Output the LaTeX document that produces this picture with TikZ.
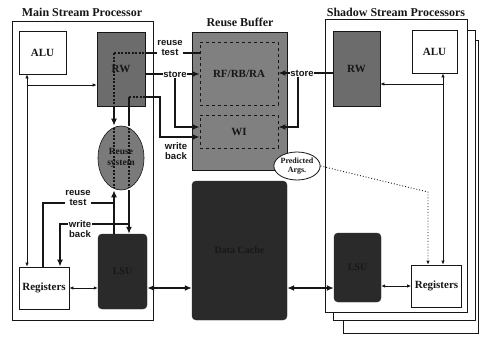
\documentclass[tikz,border=0pt]{standalone}
\usepackage{fontspec}
\setmainfont{Liberation Serif}
\setsansfont{Liberation Sans}
\usepackage{tikz}
\usetikzlibrary{arrows.meta,shapes.geometric}
\definecolor{spInk}{HTML}{161616}
\definecolor{spRW}{HTML}{6C6C6C}
\definecolor{spBuffer}{HTML}{808080}
\definecolor{spReuse}{HTML}{7A7A7A}
\definecolor{spDark}{HTML}{2A2A2A}
\tikzset{
  sp diagram/.style={font=\rmfamily\bfseries, text=spInk,
    line cap=butt, line join=miter},
  sp frame/.style={draw=spInk, fill=white, line width=0.8pt},
  sp unit/.style={draw=spInk, fill=white, line width=0.8pt,
    font=\fontsize{11}{13}\selectfont\bfseries},
  sp rw/.style={sp unit, fill=spRW, line width=0.6pt},
  sp buffer/.style={draw=spInk, fill=spBuffer, line width=0.6pt},
  sp inner/.style={draw=spInk, dashed, line width=0.8pt,
    font=\fontsize{11}{13}\selectfont\bfseries},
  sp reuse/.style={ellipse, draw=spInk, fill=spReuse, line width=0.6pt,
    inner sep=0pt, align=center, font=\fontsize{9.5}{10.5}\selectfont\bfseries},
  sp args/.style={ellipse, draw=spInk, fill=white, line width=0.8pt,
    inner sep=0pt, align=center, font=\fontsize{8}{9}\selectfont\bfseries},
  sp dark/.style={draw=spDark, fill=spDark, rounded corners=4pt,
    text=spDark!55!black, font=\fontsize{10}{12}\selectfont\bfseries},
  sp title/.style={font=\fontsize{12}{14}\selectfont\bfseries},
  sp tag/.style={font=\sffamily\bfseries\fontsize{9.5}{10.5}\selectfont,
    fill=white, inner sep=0.5pt, align=center},
  sp line/.style={draw=spInk, line width=1.6pt},
  sp arrow/.style={sp line, -{Latex[length=7pt,width=6pt]}},
  sp both/.style={sp line, {Latex[length=7pt,width=6pt]}-{Latex[length=7pt,width=6pt]}},
  sp mid/.style={draw=spInk, line width=1pt},
  sp mid arrow/.style={sp mid, -{Latex[length=4pt,width=3.5pt]}},
  sp mid both/.style={sp mid, {Latex[length=4pt,width=3.5pt]}-{Latex[length=4pt,width=3.5pt]}},
  sp inside/.style={draw=spInk, line width=1.2pt, dash pattern=on 2pt off 1.5pt},
  sp hint/.style={draw=spInk, line width=0.9pt, dotted, -{Latex[length=4pt,width=3.5pt]}}
}
\begin{document}
\begin{tikzpicture}[sp diagram,x=1pt,y=-1pt]
\useasboundingbox (0,0) rectangle (480,343);
\node[sp frame,minimum width=141pt,minimum height=299pt] (mainbox) at (82.5,170.5) {};
\node[sp frame,minimum width=135pt,minimum height=293pt] (shframeC) at (410.5,186.5) {};
\node[sp frame,minimum width=142pt,minimum height=290pt] (shframeB) at (404,175) {};
\node[sp frame,minimum width=142pt,minimum height=293pt] (shadowbox) at (396,165.5) {};
\node[sp title] (maintitle) at (82,12) {Main Stream Processor};
\node[sp title] (buftitle) at (240,22) {Reuse Buffer};
\node[sp title] (shtitle) at (396,12) {Shadow Stream Processors};

\node[sp unit,minimum width=47pt,minimum height=43pt] (mainalu) at (42.5,52.5) {ALU};
\node[sp rw,minimum width=48pt,minimum height=74pt] (mainrw) at (121,69) {RW};
\node[sp reuse,minimum width=46pt,minimum height=64pt] (reusesys) at (121,158) {};
\node[sp unit,minimum width=48pt,minimum height=42pt] (mainreg) at (44,288) {Registers};
\node[sp dark,minimum width=49pt,minimum height=75pt] (mainlsu) at (122.5,271.5) {LSU};
\node[sp buffer,minimum width=95pt,minimum height=138pt] (buffer) at (239.5,101) {};
\node[sp inner,minimum width=78pt,minimum height=63pt] (rfbox) at (239,73.5) {RF/RB/RA};
\node[sp inner,minimum width=78pt,minimum height=33pt] (wibox) at (239,131.5) {WI};
\node[sp dark,minimum width=95pt,minimum height=139pt] (cache) at (239.5,250.5) {Data Cache};
\node[sp args,minimum width=46pt,minimum height=28pt] (predargs) at (297,166) {Predicted\\Args.};
\node[sp rw,minimum width=47pt,minimum height=75pt] (shrw) at (356.5,68.5) {RW};
\node[sp unit,minimum width=45pt,minimum height=43pt] (shalu) at (434.5,51.5) {ALU};
\node[sp dark,minimum width=47pt,minimum height=69pt] (shlsu) at (357.5,267.5) {LSU};
\node[sp unit,minimum width=47pt,minimum height=42pt] (shreg) at (436.5,286) {Registers};

\coordinate (mainbus) at (27,85);
\coordinate (shbus) at (443,84);
\coordinate (rtest) at (114,53);
\coordinate (wback) at (129,97);
\coordinate (wbturn) at (160,137);
\coordinate (mstore) at (175,74);
\coordinate (mstorewi) at (175,127);
\coordinate (sstore) at (302,73);
\coordinate (sstorewi) at (298,127);
\coordinate (rtestreg) at (43,203);
\coordinate (wbackreg) at (60,224);
\coordinate (argsturn) at (428,192);
\coordinate (membus) at (240,288);

\draw[sp mid both] (mainalu.south -| mainbus) -- (mainreg.north -| mainbus);
\draw[sp mid arrow] (mainbus) -- (mainrw.west |- mainbus);
\draw[sp mid both] (shalu.south -| shbus) -- (shreg.north -| shbus);
\draw[sp mid arrow] (shbus) -- (shrw.east |- shbus);

\draw[sp inside] (rtest) -- (mainrw.east |- rtest);
\draw[sp line] (mainrw.east |- rtest) -- (rfbox.west |- rtest);
\draw[sp inside] (rtest) -- (mainrw.south -| rtest);
\draw[sp arrow] (mainrw.south -| rtest) -- (reusesys.north -| rtest);
\draw[sp inside,shorten <=2pt,shorten >=2pt] (reusesys.north -| rtest) -- (reusesys.south -| rtest);
\draw[sp inside,shorten <=2pt,shorten >=2pt] (reusesys.north -| wback) -- (reusesys.south -| wback);
\node[font=\fontsize{9.5}{10.5}\selectfont\bfseries,align=center,inner sep=0pt] (reusetext) at (reusesys) {Reuse\\system};
\draw[sp arrow] (mainlsu.north -| rtest) -- (reusesys.south -| rtest);
\draw[sp line] (mainreg.north -| rtestreg) |- (rtestreg -| rtest);

\draw[sp line] (reusesys.north -| wback) -- (wback);
\draw[sp inside] (wback) -- (mainrw.east |- wback);
\draw[sp arrow] (mainrw.east |- wback) -| (wbturn) -- (wibox.west |- wbturn);
\draw[sp arrow] (reusesys.south -| wback) -- (mainlsu.north -| wback);
\draw[sp arrow] (wbackreg -| wback) -| (mainreg.north -| wbackreg);

\draw[sp arrow] (mainrw.east |- mstore) -- (rfbox.west |- mstore);
\draw[sp arrow] (mstore) |- (wibox.west |- mstorewi);
\draw[sp arrow] (shrw.west |- sstore) -- (rfbox.east |- sstore);
\draw[sp arrow] (sstorewi |- sstore) |- (wibox.east |- sstorewi);

\draw[sp hint] (predargs.east) -- (argsturn) -- (shreg.north -| argsturn);

\draw[sp mid both] (mainreg.east) -- (mainlsu.west |- mainreg.east);
\draw[sp both] (mainlsu.east |- membus) -- (cache.west |- membus);
\draw[sp both] (cache.east |- membus) -- (shlsu.west |- membus);
\draw[sp mid both] (shlsu.east |- shreg.west) -- (shreg.west);

\node[sp tag] (rtesttag) at (170,47.75) {reuse\\test};
\node[sp tag] (mstoretag) at (mstore) {store};
\node[sp tag] (sstoretag) at (sstore) {store};
\node[sp tag] (wbacktag) at (176,151) {write\\back};
\node[sp tag] (rtestreg tag) at (78,197.75) {reuse\\test};
\node[sp tag] (wbackreg tag) at (80,229.25) {write\\back};
\end{tikzpicture}
\end{document}
